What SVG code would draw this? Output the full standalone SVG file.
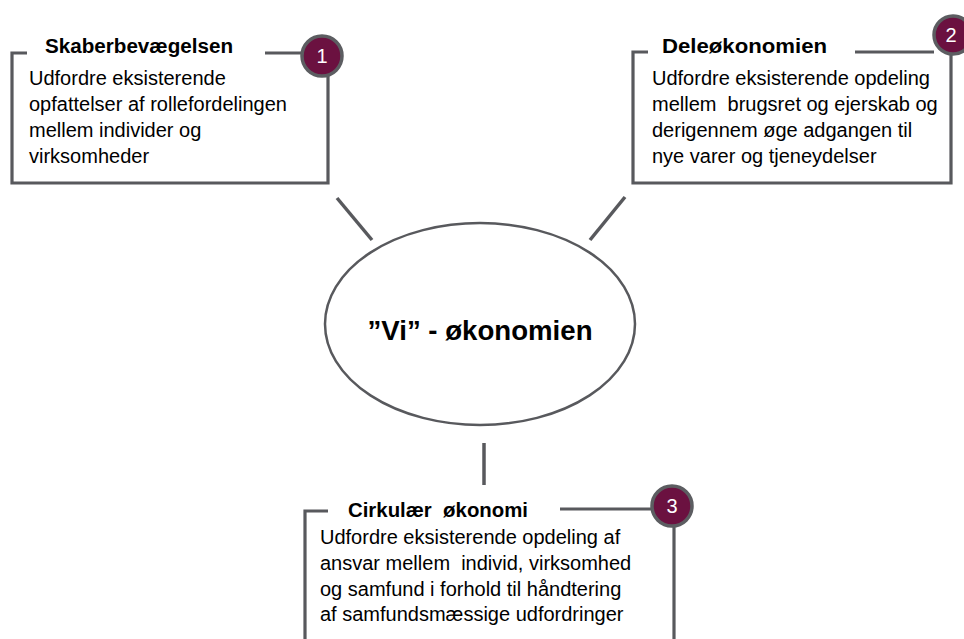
<svg xmlns="http://www.w3.org/2000/svg" width="964" height="639" viewBox="0 0 964 639">
<style>
.frame{fill:none;stroke:#58595d;stroke-width:3.2}
.badge{fill:#6b1140;stroke:#5c5d61;stroke-width:3.5}
.num{font-family:"Liberation Sans",Arial,sans-serif;font-size:20px;fill:#ffffff;text-anchor:middle}
.title{font-family:"Liberation Sans",Arial,sans-serif;font-size:20px;font-weight:bold;fill:#000000;white-space:pre}
.body{font-family:"Liberation Sans",Arial,sans-serif;font-size:20px;fill:#000000;white-space:pre}
.conn{stroke:#58595d;stroke-width:3.5;fill:none}
.center{font-family:"Liberation Sans",Arial,sans-serif;font-size:28px;font-weight:bold;fill:#000000;text-anchor:middle}
</style>
<rect width="964" height="639" fill="#ffffff"/>
<g id="connectors">
<line class="conn" x1="337" y1="198" x2="372" y2="240"/>
<line class="conn" x1="625" y1="197" x2="590" y2="240"/>
<line class="conn" x1="484" y1="443" x2="484" y2="485"/>
</g>
<g id="node-center">
<ellipse cx="480" cy="324" rx="155" ry="101" fill="#ffffff" stroke="#58595d" stroke-width="2.5"/>
<text class="center" x="480" y="340" textLength="225" lengthAdjust="spacingAndGlyphs">”Vi” - økonomien</text>
</g>
<g id="node-1">
<path class="frame" d="M27,53 H12 V183 H328 V74"/>
<path class="frame" d="M265,53 H303"/>
<text class="title" x="45" y="53" textLength="188" lengthAdjust="spacingAndGlyphs">Skaberbevægelsen</text>
<text class="body" x="29" y="85">Udfordre eksisterende</text>
<text class="body" x="29" y="111">opfattelser af rollefordelingen</text>
<text class="body" x="29" y="137">mellem individer og</text>
<text class="body" x="29" y="163">virksomheder</text>
<circle class="badge" cx="322" cy="56" r="20"/>
<text class="num" x="322" y="63">1</text>
</g>
<g id="node-2">
<path class="frame" d="M648,52 H633 V183 H951 V53"/>
<path class="frame" d="M855,52 H934"/>
<text class="title" x="662" y="53" textLength="165" lengthAdjust="spacingAndGlyphs">Deleøkonomien</text>
<text class="body" x="652" y="85">Udfordre eksisterende opdeling</text>
<text class="body" x="652" y="111">mellem  brugsret og ejerskab og</text>
<text class="body" x="652" y="137">derigennem øge adgangen til</text>
<text class="body" x="652" y="163">nye varer og tjeneydelser</text>
<circle class="badge" cx="953" cy="35" r="19"/>
<text class="num" x="951" y="42">2</text>
</g>
<g id="node-3">
<path class="frame" d="M328,511 H305 V645"/>
<path class="frame" d="M560,509 H653"/>
<path class="frame" d="M674,525 V645"/>
<text class="title" x="348" y="517" textLength="180" lengthAdjust="spacingAndGlyphs">Cirkulær  økonomi</text>
<text class="body" x="320" y="544">Udfordre eksisterende opdeling af</text>
<text class="body" x="320" y="570">ansvar mellem  individ, virksomhed</text>
<text class="body" x="320" y="596">og samfund i forhold til håndtering</text>
<text class="body" x="320" y="621">af samfundsmæssige udfordringer</text>
<circle class="badge" cx="672" cy="506" r="20"/>
<text class="num" x="672" y="513">3</text>
</g>
</svg>
